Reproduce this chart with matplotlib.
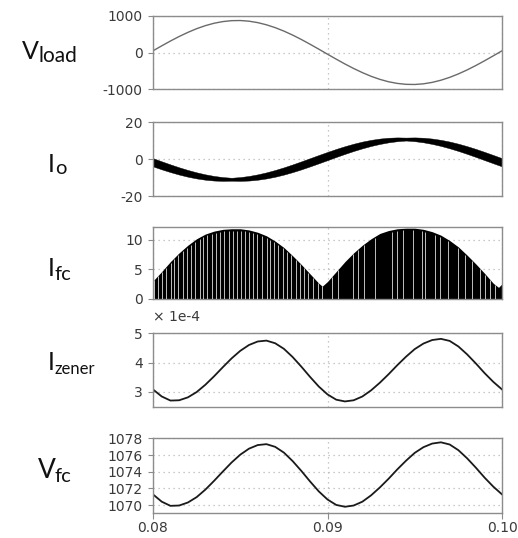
import numpy as np
import matplotlib
matplotlib.use("Agg")
import matplotlib.pyplot as plt

# ---------------- data ----------------
t = np.round(np.linspace(0.08, 0.10, 41), 5)

v_load = [46, 181, 312, 435, 547, 647, 730, 795, 840, 865, 869, 851, 812, 753, 676, 582, 474, 354, 225, 91,
          -46, -181, -312, -435, -547, -647, -730, -795, -840, -865, -869, -851, -812, -753, -676, -582,
          -474, -354, -225, -91, 46]

io_center = [-1.70, -3.37, -4.95, -6.41, -7.71, -8.82, -9.71, -10.37, -10.77, -10.90, -10.77, -10.37,
             -9.71, -8.82, -7.71, -6.41, -4.95, -3.37, -1.70, 0.00, 1.70, 3.37, 4.95, 6.41, 7.71, 8.82,
             9.71, 10.37, 10.77, 10.90, 10.77, 10.37, 9.71, 8.82, 7.71, 6.41, 4.95, 3.37, 1.70, 0.00, -1.70]
io_ripple = [2.23, 2.18, 2.09, 1.97, 1.83, 1.65, 1.46, 1.25, 1.03, 0.80, 1.03, 1.25, 1.46, 1.65, 1.83,
             1.97, 2.09, 2.18, 2.23, 2.25, 2.23, 2.18, 2.09, 1.97, 1.83, 1.65, 1.46, 1.25, 1.03, 0.80,
             1.03, 1.25, 1.46, 1.65, 1.83, 1.97, 2.09, 2.18, 2.23, 2.25, 2.23]

ifc_t = [0.0800, 0.0805, 0.0810, 0.0815, 0.0820, 0.0825, 0.0830, 0.0835, 0.0840, 0.0845, 0.0850,
         0.0855, 0.0860, 0.0865, 0.0870, 0.0875, 0.0880, 0.0885, 0.0890, 0.0895, 0.0897, 0.0900,
         0.0905, 0.0910, 0.0915, 0.0920, 0.0925, 0.0930, 0.0935, 0.0940, 0.0945, 0.0950, 0.0955,
         0.0960, 0.0965, 0.0970, 0.0975, 0.0980, 0.0985, 0.0990, 0.0995, 0.0998, 0.1000]
ifc_env = [3.0, 4.6, 6.3, 7.8, 9.1, 10.2, 11.0, 11.5, 11.8, 11.9, 11.9, 11.7, 11.3, 10.7, 9.8, 8.7,
           7.3, 5.8, 4.2, 2.6, 2.1, 2.9, 4.6, 6.3, 7.8, 9.1, 10.2, 11.1, 11.6, 11.9, 12.0, 12.0, 11.8,
           11.4, 10.8, 9.9, 8.8, 7.4, 5.9, 4.3, 2.6, 1.9, 2.5]
ifc_gaps = [0.08006, 0.08030, 0.08050, 0.08074, 0.08101, 0.08120, 0.08145, 0.08170, 0.08193, 0.08216,
            0.08241, 0.08269, 0.08288, 0.08311, 0.08338, 0.08361, 0.08384, 0.08407, 0.08437, 0.08457,
            0.08480, 0.08503, 0.08527, 0.08552, 0.08575, 0.08598, 0.08625, 0.08652, 0.08671, 0.08693,
            0.08718, 0.08743, 0.08766, 0.08789, 0.08818, 0.08842, 0.08865, 0.08890, 0.08918, 0.08944,
            0.08967, 0.09027, 0.09062, 0.09148, 0.09176, 0.09211, 0.09272, 0.09368, 0.09397, 0.09434,
            0.09492, 0.09540, 0.09559, 0.09616, 0.09645, 0.09692, 0.09750, 0.09788, 0.09826, 0.09874,
            0.09903, 0.09931, 0.09960]

iz_e4 = [3.08, 2.84, 2.70, 2.71, 2.81, 2.99, 3.24, 3.53, 3.84, 4.14, 4.40, 4.60, 4.72, 4.75, 4.66,
         4.47, 4.19, 3.86, 3.51, 3.18, 2.91, 2.73, 2.67, 2.71, 2.84, 3.05, 3.31, 3.60, 3.91, 4.20, 4.46,
         4.65, 4.77, 4.81, 4.74, 4.55, 4.28, 3.97, 3.64, 3.34, 3.08]

v_fc = [1071.29, 1070.42, 1069.92, 1069.96, 1070.32, 1070.96, 1071.86, 1072.91, 1074.02, 1075.10,
        1076.04, 1076.76, 1077.19, 1077.30, 1076.98, 1076.29, 1075.28, 1074.10, 1072.84, 1071.65,
        1070.68, 1070.03, 1069.81, 1069.96, 1070.42, 1071.18, 1072.12, 1073.16, 1074.28, 1075.32,
        1076.26, 1076.94, 1077.37, 1077.52, 1077.26, 1076.58, 1075.61, 1074.49, 1073.30, 1072.22,
        1071.29]

x_ticks = [0.08, 0.09, 0.10]
x_labels = ["0.08", "0.09", "0.10"]

# ---------------- figure ----------------
W, H = 518, 538
plt.rcParams["font.family"] = ["DejaVu Sans"]
plt.rcParams["axes.unicode_minus"] = False
fig = plt.figure(figsize=(W / 100, H / 100), dpi=100)

def make_ax(top, bottom):
    return fig.add_axes([153 / W, 1 - bottom / H, 349 / W, (bottom - top) / H])

SPINE = "#8c8c8c"
GRID = "#b8b8b8"
TXT = "#3a3a3a"

def style(ax, ylim, yticks, last=False):
    ax.set_xlim(0.08, 0.10)
    ax.set_ylim(*ylim)
    ax.set_yticks(yticks)
    ax.set_xticks(x_ticks)
    for s in ax.spines.values():
        s.set_color(SPINE)
        s.set_linewidth(1.0)
    ax.grid(True, linestyle=(0, (1, 3)), color=GRID, linewidth=0.9)
    ax.set_axisbelow(True)
    ax.tick_params(axis="y", direction="out", length=3.5, width=0.8, color=SPINE,
                   labelsize=10, labelcolor=TXT, pad=4)
    if last:
        ax.set_xticklabels(x_labels)
        ax.tick_params(axis="x", direction="out", length=4, width=0.8, color=SPINE,
                       labelsize=10, labelcolor=TXT, pad=2)
    else:
        ax.tick_params(axis="x", bottom=False, labelbottom=False)

# panel 1: V_load
ax1 = make_ax(15.7, 89.3)
ax1.plot(t, v_load, color="#6a6a6a", lw=1.0)
style(ax1, (-1000, 1000), [-1000, 0, 1000])

# panel 2: I_o
ax2 = make_ax(122.3, 196.0)
lo = np.array(io_center) - np.array(io_ripple)
hi = np.array(io_center) + np.array(io_ripple)
ax2.fill_between(t, lo, hi, color="black", lw=0.3, edgecolor="black")
style(ax2, (-20, 20), [-20, 0, 20])

# panel 3: I_fc
ax3 = make_ax(227.0, 298.5)
ax3.fill_between(ifc_t, 0, ifc_env, color="black", lw=0)
gap_top = np.interp(ifc_gaps, ifc_t, ifc_env) * 0.97
ax3.vlines(ifc_gaps, 0, gap_top, colors="white", lw=0.7, alpha=0.75, zorder=3)
style(ax3, (0, 12.2), [0, 5, 10])

# panel 4: I_zener
ax4 = make_ax(333.3, 406.7)
ax4.plot(t, iz_e4, color="#1a1a1a", lw=1.3)
style(ax4, (2.49, 5.0), [3, 4, 5])
fig.text(153 / W, 1 - 321 / H, "× 1e-4", fontsize=10, color=TXT, ha="left", va="baseline")

# panel 5: V_fc
ax5 = make_ax(438.3, 512.7)
ax5.plot(t, v_fc, color="#1a1a1a", lw=1.3)
style(ax5, (1069.1, 1078), [1070, 1072, 1074, 1076, 1078], last=True)

# ---------------- row labels ----------------
def row_label(main, sub, x_main, base_main, x_sub, base_sub, size_main, size_sub):
    fig.text(x_main / W, 1 - base_main / H, main, fontsize=size_main, family="Lato",
             color="#111111", ha="left", va="baseline")
    fig.text(x_sub / W, 1 - base_sub / H, sub, fontsize=size_sub, family="Lato",
             color="#111111", ha="left", va="baseline")

row_label("V", "load", 21.5, 59.3, 38.5, 62.5, 18, 15)
row_label("I", "o", 48.0, 171.7, 55.5, 174.5, 18, 14.5)
row_label("I", "fc", 48.0, 276.0, 54.5, 279.5, 18, 14.5)
row_label("I", "zener", 47.5, 370.0, 54.5, 373.5, 18, 12)
row_label("V", "fc", 37.5, 478.3, 54.5, 481.5, 19, 14.5)

fig.savefig("out.png", dpi=100)
